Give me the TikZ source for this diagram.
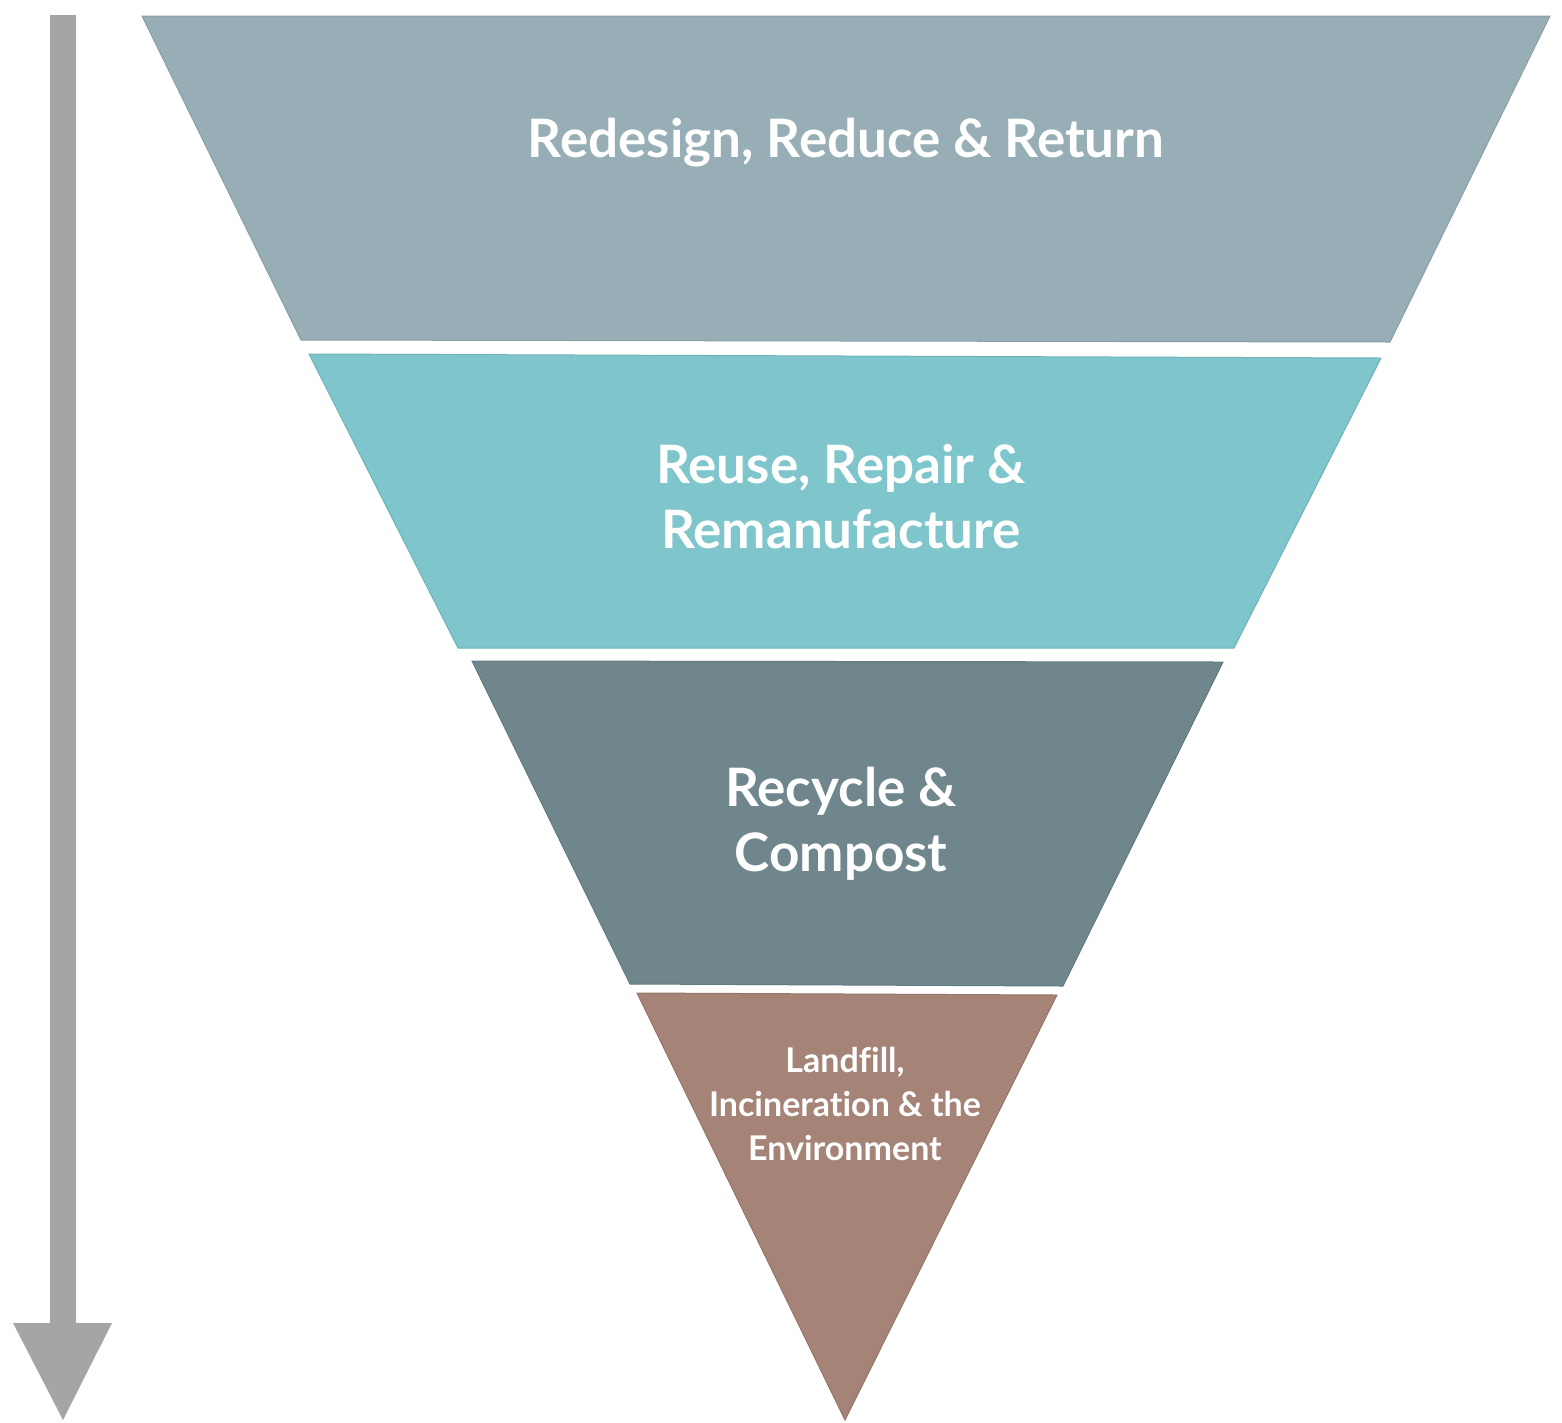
\documentclass[tikz,border=0pt]{standalone}
\usepackage{fontspec}
\setmainfont{Lato}[Ligatures=NoCommon]
\definecolor{tierA}{HTML}{98AEB6}
\definecolor{tierAline}{HTML}{8A9EA6}
\definecolor{tierB}{HTML}{7EC6CC}
\definecolor{tierBline}{HTML}{6FB3B9}
\definecolor{tierC}{HTML}{6E868C}
\definecolor{tierCline}{HTML}{627980}
\definecolor{tierD}{HTML}{A58477}
\definecolor{tierDline}{HTML}{957569}
\definecolor{arrowgrey}{HTML}{A3A6A5}
\tikzset{
  bigtxt/.style={text=white, font=\bfseries\fontsize{53}{65}\selectfont, align=center, inner sep=0pt},
  smalltxt/.style={text=white, font=\bfseries\fontsize{34}{44}\selectfont, align=center, inner sep=0pt},
  tier/.style={line width=1pt, line join=miter}
}
\begin{document}
\begin{tikzpicture}[x=1pt,y=-1pt]
\useasboundingbox (0,0) rectangle (1562,1422);
% arrow
\fill[arrowgrey] (50,15) -- (76,15) -- (76,1323) -- (112,1323) -- (63,1420) -- (13,1323) -- (50,1323) -- cycle;
% tiers
\filldraw[tier, fill=tierA, draw=tierAline] (142,16) -- (1550,16) -- (1390,342) -- (301,340) -- cycle;
\filldraw[tier, fill=tierB, draw=tierBline] (309,354) -- (1381,358) -- (1234,648) -- (458,648) -- cycle;
\filldraw[tier, fill=tierC, draw=tierCline] (472,661) -- (1223,662) -- (1063,986) -- (630,984) -- cycle;
\filldraw[tier, fill=tierD, draw=tierDline] (637,993) -- (1057,995) -- (845,1420) -- cycle;
% labels
\node[bigtxt] (t1) at (846,143) {Redesign, Reduce \& Return};
\node[bigtxt] (t2) at (841,497) {Reuse, Repair \&\\Remanufacture};
\node[bigtxt] (t3) at (841,824) {Recycle \&\\Compost};
\node[smalltxt] (t4) at (845,1104) {Landfill,\\Incineration \& the\\Environment};
\end{tikzpicture}
\end{document}
